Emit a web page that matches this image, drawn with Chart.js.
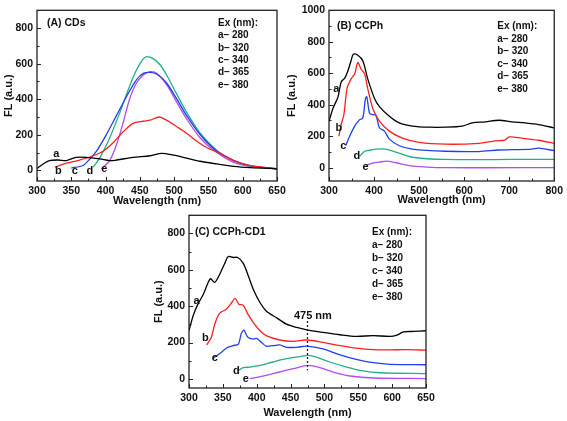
<!DOCTYPE html>
<html>
<head>
<meta charset="utf-8">
<script src="https://cdn.jsdelivr.net/npm/chart.js@4.4.1/dist/chart.umd.min.js"></script>
<style>
    html, body { margin: 0; padding: 0; background: #fff; }
    body { width: 567px; height: 421px; position: relative; overflow: hidden; }
    canvas { position: absolute; }
</style>
</head>
<body>
<canvas id="chartA" width="290" height="210" style="left:0;top:0"></canvas>
<canvas id="chartB" width="287" height="210" style="left:280px;top:0"></canvas>
<canvas id="chartC" width="300" height="216" style="left:140px;top:205px"></canvas>
<script>
// 공통 범례 텍스트 (여기 파장)
const exTitle = 'Ex (nm):';
const exLabels = ['a\u2013 280', 'b\u2013 320', 'c\u2013 340', 'd\u2013 365', 'e\u2013 380'];
const curveNames = ['a', 'b', 'c', 'd', 'e'];
const curveColors = ['#000000', '#ff1f1f', '#2040f0', '#1fb088', '#b04cf0'];

// 눈금 값
const xTicksA = [300, 350, 400, 450, 500, 550, 600, 650];
const yTicksA = [0, 200, 400, 600, 800];
const xTicksB = [300, 400, 500, 600, 700, 800];
const yTicksB = [0, 200, 400, 600, 800, 1000];
const xTicksC = [300, 350, 400, 450, 500, 550, 600, 650];
const yTicksC = [0, 200, 400, 600, 800];

// (A) CDs : [파장, FL]
const cdsA = [[300,10],[309,36],[318,55],[331,58],[343,55],[357,73],[372,73],[392,64],[406,55],[416,58],[440,73],[465,82],[482,95],[499,85],[518,69],[538,51],[562,36],[587,22],[611,15],[650,9]];
const cdsB = [[326,18],[343,40],[362,58],[382,82],[397,109],[411,155],[426,218],[440,264],[455,276],[465,282],[478,300],[489,282],[504,245],[518,209],[533,164],[548,127],[567,95],[587,55],[611,27],[635,15],[650,7]];
const cdsC = [[350,13],[367,27],[377,64],[387,109],[401,200],[416,309],[431,418],[445,509],[455,545],[465,551],[475,540],[489,491],[504,400],[518,309],[538,200],[562,109],[587,55],[611,27],[650,9]];
const cdsD = [[382,18],[392,73],[406,182],[421,327],[435,473],[445,564],[455,627],[460,640],[470,627],[480,591],[489,536],[504,427],[518,327],[538,209],[562,113],[587,55],[611,24],[650,9]];
const cdsE = [[394,9],[406,55],[416,145],[426,273],[435,400],[445,491],[455,536],[465,555],[475,545],[489,482],[504,382],[518,291],[538,182],[562,100],[587,45],[611,22],[650,9]];

// (B) CCPh
const ccphA = [[300,295],[309,378],[320,450],[327,544],[335,569],[342,616],[349,679],[354,720],[364,714],[375,679],[386,564],[401,440],[412,388],[434,326],[456,284],[485,264],[522,257],[559,257],[596,264],[618,284],[647,291],[677,301],[706,291],[735,284],[765,274],[800,253]];
const ccphB = [[322,201],[327,274],[333,336],[340,502],[349,564],[357,596],[364,668],[371,627],[379,596],[386,502],[397,378],[412,295],[434,232],[463,187],[500,160],[559,149],[632,154],[669,170],[690,175],[700,195],[728,187],[765,174],[800,154]];
const ccphC = [[337,139],[346,201],[357,264],[368,305],[375,315],[381,440],[384,450],[390,346],[397,336],[404,336],[412,253],[423,232],[434,181],[456,139],[485,118],[559,104],[632,102],[677,112],[706,114],[750,118],[765,124],[800,108]];
const ccphD = [[368,71],[379,104],[393,112],[404,118],[426,118],[449,98],[485,66],[559,52],[706,52],[800,52]];
const ccphE = [[382,15],[397,29],[412,35],[428,41],[449,31],[485,10],[559,0],[800,0]];

// (C) CCPh-CD1
const mixA = [[300,265],[306,346],[313,410],[321,464],[328,528],[332,551],[338,531],[345,573],[353,637],[358,673],[365,668],[372,668],[380,637],[387,573],[395,492],[405,419],[414,374],[429,337],[444,301],[459,283],[474,270],[498,256],[523,243],[547,234],[572,238],[597,234],[607,241],[617,259],[631,261],[650,265]];
const mixB = [[326,187],[333,229],[338,301],[345,361],[355,383],[363,419],[368,443],[374,410],[380,406],[387,356],[395,310],[405,265],[414,238],[434,214],[454,207],[474,214],[498,201],[523,183],[547,169],[572,161],[597,160],[621,161],[650,158]];
const mixC = [[335,114],[345,138],[355,169],[365,183],[373,192],[377,247],[381,268],[387,229],[395,219],[400,223],[407,201],[414,180],[424,183],[434,187],[444,174],[459,174],[474,180],[498,165],[523,132],[547,107],[572,89],[597,80],[650,78]];
const mixD = [[372,44],[380,62],[390,65],[405,74],[424,93],[444,111],[464,123],[476,129],[488,120],[508,93],[533,65],[557,44],[582,34],[650,29]];
const mixE = [[390,2],[409,15],[434,38],[454,56],[476,74],[493,62],[513,38],[538,16],[572,5],[650,2]];

const FONT = '"Liberation Sans", Arial, sans-serif';

// 테두리, 안쪽 눈금, 텍스트 그리기 플러그인
const panelPlugin = {
    id: 'panel',
    afterDraw(chart, args, opts) {
        const ctx = chart.ctx;
        const area = chart.chartArea;
        const xs = chart.scales.x;
        const ys = chart.scales.y;
        ctx.save();

        // 안쪽 눈금
        ctx.strokeStyle = '#222';
        ctx.lineWidth = 1;
        ctx.beginPath();
        for (let v = Math.ceil(xs.min / opts.xMinor) * opts.xMinor; v <= xs.max; v += opts.xMinor) {
            const px = Math.round(xs.getPixelForValue(v)) + 0.5;
            const len = v % opts.xMajor === 0 ? 4 : 2.5;
            ctx.moveTo(px, area.bottom);
            ctx.lineTo(px, area.bottom - len);
        }
        for (let v = Math.ceil(ys.min / opts.yMinor) * opts.yMinor; v <= ys.max; v += opts.yMinor) {
            const py = Math.round(ys.getPixelForValue(v)) + 0.5;
            const len = v % opts.yMajor === 0 ? 4 : 2.5;
            ctx.moveTo(area.left, py);
            ctx.lineTo(area.left + len, py);
        }
        ctx.stroke();

        // 테두리
        ctx.lineWidth = 1.3;
        ctx.strokeRect(area.left, area.top, area.right - area.left, area.bottom - area.top);

        // 패널 제목
        ctx.fillStyle = '#111';
        ctx.textBaseline = 'middle';
        ctx.textAlign = 'left';
        ctx.font = 'bold 10.5px ' + FONT;
        ctx.fillText(opts.title, area.left + opts.titleDx, area.top + opts.titleDy);

        // 범례 (Ex)
        ctx.font = 'bold 10px ' + FONT;
        const lx = area.right - opts.legendDx;
        ctx.fillText(exTitle, lx, area.top + opts.legendDy);
        exLabels.forEach((t, i) => {
            ctx.fillText(t, lx, area.top + opts.legendDy + (i + 1) * opts.legendStep);
        });

        // 곡선 이름 a-e
        ctx.font = 'bold 11px ' + FONT;
        ctx.textAlign = 'center';
        opts.tags.forEach((tag, i) => {
            ctx.fillText(curveNames[i], xs.getPixelForValue(tag[0]), ys.getPixelForValue(tag[1]));
        });

        // 475 nm 점선
        if (opts.marker) {
            const m = opts.marker;
            const px = xs.getPixelForValue(m.at);
            ctx.setLineDash([2, 2]);
            ctx.lineWidth = 1.3;
            ctx.beginPath();
            ctx.moveTo(px, ys.getPixelForValue(m.from));
            ctx.lineTo(px, ys.getPixelForValue(m.to));
            ctx.stroke();
            ctx.setLineDash([]);
            ctx.font = 'bold 11px ' + FONT;
            ctx.fillText(m.text, xs.getPixelForValue(m.textX), ys.getPixelForValue(m.textY));
        }
        ctx.restore();
    }
};

function makeDatasets(series) {
    return series.map((pts, i) => ({
        data: pts.map(p => ({ x: p[0], y: p[1] })),
        borderColor: curveColors[i],
        borderWidth: 1.3,
        pointRadius: 0,
        tension: 0.3,
        fill: false
    }));
}

function makeChart(id, series, cfg) {
    const tickFont = { family: FONT, size: 10.5, weight: 'bold' };
    const titleFont = { family: FONT, size: 11, weight: 'bold' };
    return new Chart(document.getElementById(id), {
        type: 'line',
        data: { datasets: makeDatasets(series) },
        plugins: [panelPlugin],
        options: {
            responsive: false,
            animation: false,
            devicePixelRatio: 1,
            layout: { padding: cfg.padding },
            plugins: {
                legend: { display: false },
                tooltip: { enabled: false },
                panel: cfg.panel
            },
            scales: {
                x: {
                    type: 'linear',
                    min: cfg.xMin, max: cfg.xMax,
                    afterBuildTicks: s => { s.ticks = cfg.xTicks.map(v => ({ value: v })); },
                    afterFit: s => { s.height = cfg.xHeight; },
                    grid: { display: false, drawTicks: false },
                    border: { display: false },
                    ticks: { color: '#111', font: tickFont, padding: 4, maxRotation: 0, callback: v => String(v) },
                    title: { display: true, text: 'Wavelength (nm)', color: '#111', font: titleFont, padding: { top: 0, bottom: cfg.xTitlePad } }
                },
                y: {
                    type: 'linear',
                    min: cfg.yMin, max: cfg.yMax,
                    afterBuildTicks: s => { s.ticks = cfg.yTicks.map(v => ({ value: v })); },
                    afterFit: s => { s.width = cfg.yWidth; },
                    grid: { display: false, drawTicks: false },
                    border: { display: false },
                    ticks: { color: '#111', font: tickFont, padding: 4, callback: v => String(v) },
                    title: { display: true, text: 'FL (a.u.)', color: '#111', font: titleFont, padding: { top: cfg.yTitlePad, bottom: 0 } }
                }
            }
        }
    });
}

makeChart('chartA', [cdsA, cdsB, cdsC, cdsD, cdsE], {
    padding: { left: 0, right: 13, top: 4, bottom: 0 },
    xMin: 300, xMax: 650, yMin: -60, yMax: 900,
    xTicks: xTicksA, yTicks: yTicksA,
    xHeight: 29, yWidth: 37, xTitlePad: 2, yTitlePad: 2,
    panel: {
        xMajor: 50, xMinor: 25, yMajor: 200, yMinor: 100,
        title: '(A) CDs', titleDx: 10, titleDy: 13,
        legendDx: 59, legendDy: 13, legendStep: 12.3,
        tags: [[328, 91], [331, -5], [355, -5], [377, -3], [398, 5]]
    }
});

makeChart('chartB', [ccphA, ccphB, ccphC, ccphD, ccphE], {
    padding: { left: 0, right: 11, top: 7, bottom: 0 },
    xMin: 300, xMax: 800, yMin: -85, yMax: 1000,
    xTicks: xTicksB, yTicks: yTicksB,
    xHeight: 29, yWidth: 49, xTitlePad: 3, yTitlePad: 5,
    panel: {
        xMajor: 100, xMinor: 50, yMajor: 200, yMinor: 100,
        title: '(B) CCPh', titleDx: 8, titleDy: 16,
        legendDx: 57, legendDy: 16, legendStep: 12.5,
        tags: [[316, 498], [322, 253], [332, 137], [362, 75], [381, 4]]
    }
});

makeChart('chartC', [mixA, mixB, mixC, mixD, mixE], {
    padding: { left: 0, right: 14, top: 7, bottom: 0 },
    xMin: 300, xMax: 650, yMin: -50, yMax: 900,
    xTicks: xTicksC, yTicks: yTicksC,
    xHeight: 33, yWidth: 49, xTitlePad: 1, yTitlePad: 12,
    panel: {
        xMajor: 50, xMinor: 25, yMajor: 200, yMinor: 100,
        title: '(C) CCPh-CD1', titleDx: 6, titleDy: 17,
        legendDx: 54, legendDy: 17, legendStep: 12.9,
        tags: [[311, 428], [324, 223], [338, 114], [370, 44], [384, 2]],
        marker: { at: 475, from: 319, to: 47, text: '475 nm', textX: 483, textY: 347 }
    }
});
</script>
</body>
</html>
